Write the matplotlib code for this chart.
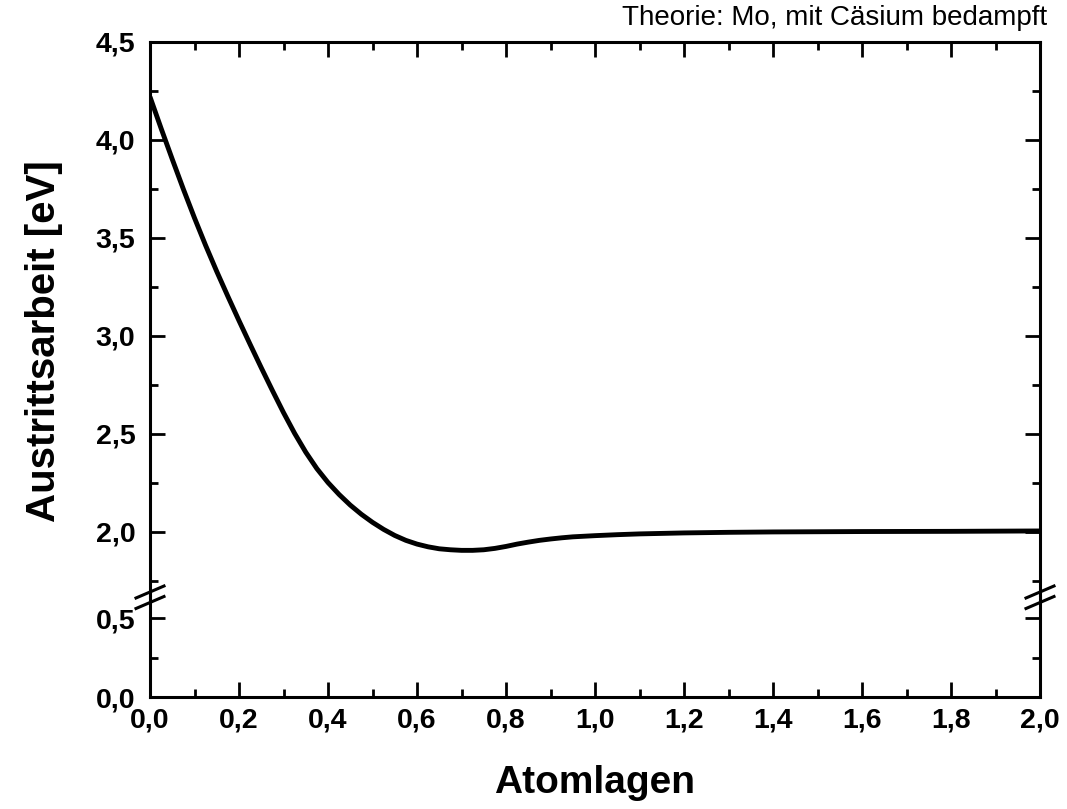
import numpy as np
import matplotlib.pyplot as plt
from matplotlib.ticker import MultipleLocator, FuncFormatter
from matplotlib.lines import Line2D

plt.rcParams['font.family'] = ['Liberation Sans', 'DejaVu Sans']

# Austrittsarbeit über Bedeckung (Atomlagen)
atomlagen = [0.000, 0.025, 0.050, 0.075, 0.100, 0.125, 0.150, 0.175, 0.200,
             0.225, 0.250, 0.275, 0.300, 0.325, 0.350, 0.375, 0.400, 0.425,
             0.450, 0.475, 0.500, 0.525, 0.550, 0.575, 0.600, 0.625, 0.650,
             0.675, 0.700, 0.725, 0.750, 0.775, 0.800, 0.825, 0.850, 0.875,
             0.900, 0.925, 0.950, 0.975, 1.000, 1.050, 1.100, 1.200, 1.300,
             1.400, 1.600, 1.800, 2.000]
austritt = [4.220, 4.059, 3.902, 3.749, 3.602, 3.462, 3.329, 3.202, 3.078,
            2.957, 2.838, 2.722, 2.609, 2.503, 2.407, 2.323, 2.252, 2.191,
            2.137, 2.090, 2.049, 2.013, 1.982, 1.957, 1.938, 1.924, 1.914,
            1.909, 1.906, 1.906, 1.909, 1.916, 1.926, 1.938, 1.948, 1.957,
            1.964, 1.970, 1.975, 1.978, 1.981, 1.986, 1.990, 1.995, 1.998,
            2.000, 2.002, 2.003, 2.005]

W, H = 1067, 809
fig = plt.figure(figsize=(W / 100, H / 100), dpi=100)

left, right = 150 / W, 1040 / W
y_top, y_mid, y_bot = 1 - 42 / H, 1 - 597 / H, 1 - 697 / H

ax_hi = fig.add_axes([left, y_mid, right - left, y_top - y_mid])
ax_lo = fig.add_axes([left, y_bot, right - left, y_mid - y_bot], sharex=ax_hi)

ax_hi.plot(atomlagen, austritt, color='black', lw=3.5, solid_capstyle='butt',
           solid_joinstyle='round')

ax_hi.set_xlim(0, 2.0)
ax_hi.set_ylim(1.668, 4.5)
ax_lo.set_ylim(0, 0.634)

comma = FuncFormatter(lambda v, p: f'{v:.1f}'.replace('.', ','))

for ax in (ax_hi, ax_lo):
    for s in ax.spines.values():
        s.set_linewidth(2.2)
    ax.xaxis.set_major_locator(MultipleLocator(0.2))
    ax.xaxis.set_minor_locator(MultipleLocator(0.1))
    ax.yaxis.set_major_locator(MultipleLocator(0.5))
    ax.yaxis.set_minor_locator(MultipleLocator(0.25))
    ax.xaxis.set_major_formatter(comma)
    ax.yaxis.set_major_formatter(comma)
    ax.tick_params(which='both', direction='in', width=2.0, labelsize=20.5)
    ax.tick_params(axis='y', pad=10.5)
    ax.tick_params(axis='x', pad=7.5)
    ax.tick_params(which='major', length=10.5)
    ax.tick_params(which='minor', length=5.5)

ax_hi.spines['bottom'].set_visible(False)
ax_lo.spines['top'].set_visible(False)
ax_hi.tick_params(which='both', left=True, right=True, top=True, bottom=False,
                  labelbottom=False)
ax_lo.tick_params(which='both', left=True, right=True, top=False, bottom=True)

for lab in ax_lo.get_xticklabels() + ax_lo.get_yticklabels() + ax_hi.get_yticklabels():
    lab.set_fontweight('bold')

# Achsenbruch-Markierungen
for xs in (left, right):
    for dy in (5, -5.5):
        yc = y_mid + dy / H
        fig.add_artist(Line2D([xs - 14 / W, xs + 14 / W],
                              [yc - 6 / H, yc + 6 / H],
                              color='black', lw=2.2, transform=fig.transFigure))

fig.text((left + right) / 2, 1 - 793 / H, 'Atomlagen', ha='center', va='baseline',
         fontsize=28, fontweight='bold')
fig.text(55 / W, 1 - 341 / H, 'Austrittsarbeit [eV]', ha='center', va='baseline',
         rotation=90, rotation_mode='anchor', fontsize=29, fontweight='bold')
fig.text(1047 / W, 1 - 25 / H, 'Theorie: Mo, mit Cäsium bedampft', ha='right',
         va='baseline', fontsize=20)

fig.savefig('out.png', dpi=100)
